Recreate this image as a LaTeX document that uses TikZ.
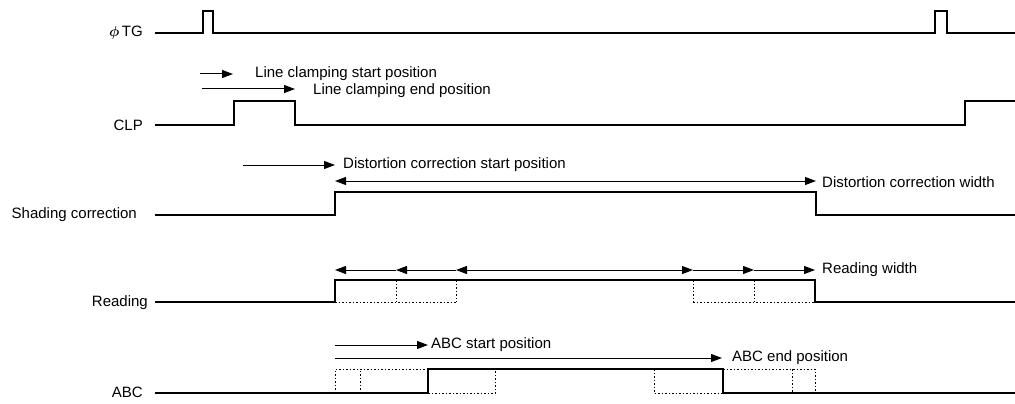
\documentclass[tikz,border=0pt]{standalone}
\usepackage{fontspec}
\setmainfont{Liberation Sans}
\usetikzlibrary{arrows.meta}
\begin{document}
\begin{tikzpicture}[x=1pt,y=-1pt,
  sig/.style={line width=1.5pt, line join=miter},
  dotline/.style={line width=1pt, dash pattern=on 1.5pt off 2pt},
  tip/.tip={Triangle[length=11pt,width=8pt]},
  arr/.style={line width=1pt,-tip},
  darr/.style={line width=1pt,tip-tip},
  lbl/.style={font=\fontsize{15}{17}\selectfont, anchor=east, inner sep=0pt},
  note/.style={font=\fontsize{15}{17}\selectfont, anchor=west, inner sep=0pt}]
\useasboundingbox (0,0) rectangle (1015,404);

% ---------- phi TG ----------
\node[lbl] (tg) at (143,33) {{\boldmath$\phi$}\,TG};
\draw[sig] (155,33) -- (203,33) -- (203,11) -- (213,11) -- (213,33)
  -- (935,33) -- (935,11) -- (947,11) -- (947,33) -- (1015,33);

% ---------- CLP ----------
\node[lbl] (clp) at (143,125) {CLP};
\draw[sig] (155,125) -- (234,125) -- (234,101) -- (295,101) -- (295,125)
  -- (965,125) -- (965,101) -- (1015,101);
\coordinate (lcs0) at (200,74);
\coordinate (lcs1) at (233,74);
\coordinate (lce0) at (202,89);
\coordinate (lce1) at (295,89);
\draw[arr] (lcs0) -- (lcs1);
\draw[arr] (lce0) -- (lce1);
\node[note] (lcsT) at (255,74) {Line clamping start position};
\node[note] (lceT) at (313,91) {Line clamping end position};

% ---------- Shading correction ----------
\node[lbl] (sh) at (137,215) {Shading correction};
\draw[sig] (155,215) -- (335,215) -- (335,192) -- (816,192) -- (816,215) -- (1015,215);
\coordinate (dcs0) at (243,165);
\coordinate (dcs1) at (335,165);
\coordinate (dcw0) at (335,181);
\coordinate (dcw1) at (816,181);
\draw[arr] (dcs0) -- (dcs1);
\draw[darr] (dcw0) -- (dcw1);
\node[note] (dcsT) at (343,165) {Distortion correction start position};
\node[note] (dcwT) at (822,182) {Distortion correction width};

% ---------- Reading ----------
\node[lbl] (rd) at (148,303) {Reading};
\draw[sig] (155,302) -- (335,302) -- (335,280) -- (815,280) -- (815,302) -- (1015,302);
\draw[dotline] (335,302) -- (456,302);
\draw[dotline] (396,280) -- (396,302);
\draw[dotline] (456,280) -- (456,302);
\draw[dotline] (693,302) -- (815,302);
\draw[dotline] (693,280) -- (693,302);
\draw[dotline] (754,280) -- (754,302);
\coordinate (rm) at (575,270);
\coordinate (rl1) at (335,270);
\coordinate (rl2) at (396,270);
\coordinate (rl3) at (456,270);
\coordinate (rr1) at (693,270);
\coordinate (rr2) at (754,270);
\coordinate (rr3) at (815,270);
\draw[arr] (rl2) -- (rl1);
\draw[arr] (rl3) -- (rl2);
\draw[arr] (rm) -- (rl3);
\draw[arr] (rm) -- (rr1);
\draw[arr] (rr1) -- (rr2);
\draw[arr] (rr2) -- (rr3);
\node[note] (rwT) at (822,270) {Reading width};

% ---------- ABC ----------
\node[lbl] (abc) at (143,392) {ABC};
\draw[sig] (155,393) -- (428,393) -- (428,369) -- (723,369) -- (723,393) -- (1015,393);
\draw[dotline] (335,393) -- (335,369) -- (428,369);
\draw[dotline] (360,393) -- (360,369);
\draw[dotline] (428,393) -- (495,393) -- (495,369);
\draw[dotline] (654,369) -- (654,393) -- (723,393);
\draw[dotline] (723,369) -- (815,369) -- (815,393);
\draw[dotline] (792,369) -- (792,393);
\coordinate (as0) at (335,345);
\coordinate (as1) at (428,345);
\coordinate (ae0) at (335,358);
\coordinate (ae1) at (722,358);
\draw[arr] (as0) -- (as1);
\draw[arr] (ae0) -- (ae1);
\node[note] (asT) at (431,345) {ABC start position};
\node[note] (aeT) at (732,358) {ABC end position};
\end{tikzpicture}
\end{document}
